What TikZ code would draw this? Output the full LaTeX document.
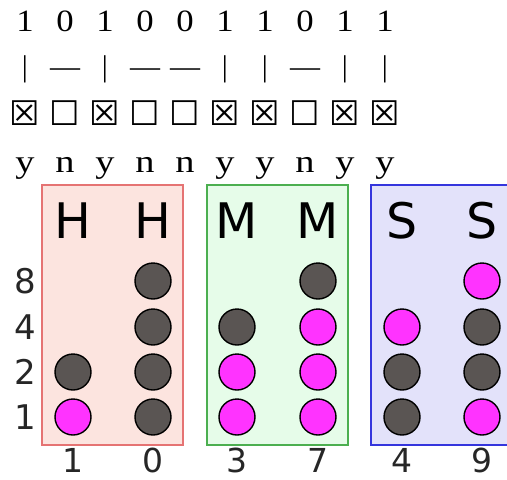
\documentclass[tikz,border=0pt]{standalone}
\usepackage{fontspec}
\setmainfont{Liberation Serif}
\newfontfamily\dvs{DejaVu Sans}
\definecolor{hfill}{HTML}{FCE4DF}
\definecolor{hline}{HTML}{E57373}
\definecolor{mfill}{HTML}{E6FCE9}
\definecolor{mline}{HTML}{4CAF50}
\definecolor{sfill}{HTML}{E3E2FA}
\definecolor{sline}{HTML}{3535DD}
\definecolor{dotoff}{HTML}{5A5553}
\definecolor{doton}{HTML}{FF33FF}
\tikzset{
  toptxt/.style={font=\fontsize{31}{31}\selectfont, inner sep=0pt, anchor=base, xscale=1.12},
  signtxt/.style={font=\fontsize{30}{30}\selectfont, inner sep=0pt, anchor=base},
  answtxt/.style={font=\fontsize{32}{32}\selectfont, inner sep=0pt, anchor=base, xscale=1.2},
  glyph/.style={font=\dvs\fontsize{34}{34}\selectfont, inner sep=0pt},
  unitbox/.style={line width=1.8pt, inner sep=0pt},
  unitlbl/.style={font=\dvs\fontsize{49}{49}\selectfont, inner sep=0pt, anchor=base},
  sidelbl/.style={font=\dvs\fontsize{34}{34}\selectfont, inner sep=0pt, anchor=base, text=black!85},
  dot/.style={circle, draw=black, line width=1.4pt, minimum size=36pt, inner sep=0pt},
  off/.style={dot, fill=dotoff},
  on/.style={dot, fill=doton},
}
\begin{document}
\begin{tikzpicture}[x=1pt,y=-1pt]
\useasboundingbox (0,0) rectangle (507,480);
% binary digits, signs, check boxes and y/n answers
\foreach \b [count=\i] in {1,0,1,0,0,1,1,0,1,1} {
  \pgfmathsetmacro{\xx}{25+40*(\i-1)}
  \node[toptxt] (d\i) at (\xx,31) {\b};
  \ifnum\b=1
    \node[signtxt] (s\i) at (\xx,76) {|};
    \node[glyph] (c\i) at (\xx,113) {☒};
    \node[answtxt] (a\i) at (\xx,172) {y};
  \else
    \node[signtxt] (s\i) at (\xx,76) {—};
    \node[glyph] (c\i) at (\xx,113) {☐};
    \node[answtxt] (a\i) at (\xx,172) {n};
  \fi
}
% hour, minute and second panels
\node[unitbox, draw=hline, fill=hfill, minimum width=141pt, minimum height=260pt] (hbox) at (112.5,315) {};
\node[unitbox, draw=mline, fill=mfill, minimum width=141pt, minimum height=260pt] (mbox) at (277.5,315) {};
\node[unitbox, draw=sline, fill=sfill, minimum width=141pt, minimum height=260pt] (sbox) at (441.5,315) {};
\foreach \l/\x [count=\i] in {H/73,H/153,M/237,M/318,S/402,S/482}
  \node[unitlbl] (u\i) at (\x,238) {\l};
% weights of the rows
\foreach \w/\y in {8/293,4/339,2/384,1/429}
  \node[sidelbl] (w\w) at (25,\y) {\w};
% digit values under the columns
\foreach \v/\x [count=\i] in {1/73,0/153,3/237,7/318,4/402,9/482}
  \node[sidelbl, font=\dvs\fontsize{33}{33}\selectfont] (v\i) at (\x,472) {\v};
% lit and unlit dots, column by column
\node[off] (p1b2) at (73,372) {};
\node[on]  (p1b1) at (73,417) {};
\node[off] (p2b8) at (153,281) {};
\node[off] (p2b4) at (153,327) {};
\node[off] (p2b2) at (153,372) {};
\node[off] (p2b1) at (153,417) {};
\node[off] (p3b4) at (237,327) {};
\node[on]  (p3b2) at (237,372) {};
\node[on]  (p3b1) at (237,417) {};
\node[off] (p4b8) at (318,281) {};
\node[on]  (p4b4) at (318,327) {};
\node[on]  (p4b2) at (318,372) {};
\node[on]  (p4b1) at (318,417) {};
\node[on]  (p5b4) at (402,327) {};
\node[off] (p5b2) at (402,372) {};
\node[off] (p5b1) at (402,417) {};
\node[on]  (p6b8) at (482,281) {};
\node[off] (p6b4) at (482,327) {};
\node[off] (p6b2) at (482,372) {};
\node[on]  (p6b1) at (482,417) {};
\end{tikzpicture}
\end{document}
